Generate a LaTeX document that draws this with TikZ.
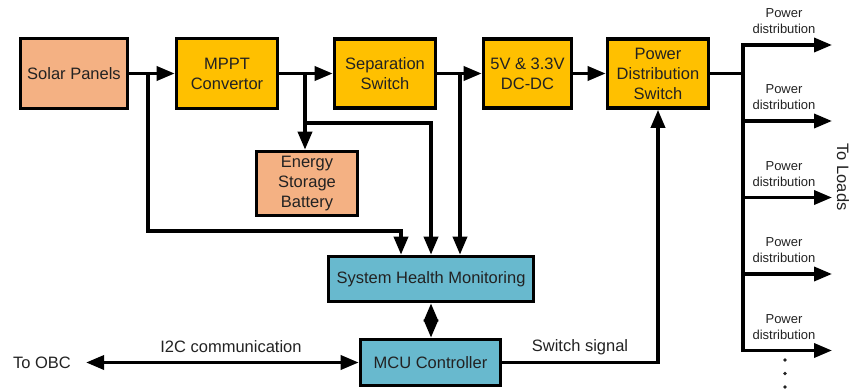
\documentclass[tikz,border=0pt]{standalone}
\usepackage{fontspec}
\setmainfont{Liberation Sans}
\usetikzlibrary{arrows.meta}
\definecolor{panel}{HTML}{F4B183}
\definecolor{gold}{HTML}{FFC000}
\definecolor{sky}{HTML}{68B9CE}
\definecolor{ink}{HTML}{222222}
\begin{document}
\begin{tikzpicture}[x=1pt,y=-1pt,
  blk/.style={draw=black, line width=3.6pt, text=ink, align=center, inner sep=0pt,
              font=\fontsize{16.5}{20}\selectfont},
  tip/.tip={Triangle[length=18pt,width=14pt]},
  wire/.style={line width=3.5pt, -tip},
  dbl/.style={line width=3.5pt, tip-tip},
  plain/.style={line width=3.5pt},
  lbl/.style={text=ink, inner sep=0pt, font=\fontsize{16.5}{20}\selectfont},
  small/.style={text=ink, align=center, inner sep=0pt, font=\fontsize{13}{16}\selectfont}]
\useasboundingbox (0,0) rectangle (851,391);

% blocks
\node[blk, fill=panel, minimum width=107pt, minimum height=70pt] (solar) at (74,73.5) {Solar Panels};
\node[blk, fill=gold,  minimum width=101pt, minimum height=70pt] (mppt)  at (227,73.5) {MPPT\\Convertor};
\node[blk, fill=gold,  minimum width=101pt, minimum height=69pt] (sep)   at (385,73.5) {Separation\\Switch};
\node[blk, fill=gold,  minimum width=88pt,  minimum height=69pt] (dcdc)  at (527.5,73.5) {5V \& 3.3V\\DC-DC};
\node[blk, fill=gold,  minimum width=101pt, minimum height=69pt] (pds)   at (658,73.5) {Power\\Distribution\\Switch};
\node[blk, fill=panel, minimum width=101pt, minimum height=64pt] (bat)   at (307,183.5) {Energy\\Storage\\Battery};
\node[blk, fill=sky,   minimum width=205pt, minimum height=45pt] (shm)   at (431,279) {System Health Monitoring};
\node[blk, fill=sky,   minimum width=140pt, minimum height=46pt] (mcu)   at (430.5,362.5) {MCU Controller};

% main power chain
\draw[wire] (solar.east) -- (mppt.west);
\draw[wire] (mppt.east) -- (sep.west);
\draw[wire] (sep.east) -- (dcdc.west);
\draw[wire] (dcdc.east) -- (pds.west);

% sensing taps into the health monitor
\coordinate (j1) at (148,73.5);
\coordinate (k1) at (401,231);
\draw[wire] (j1) |- (k1) -- (k1 |- shm.north);

\coordinate (j2) at (305,73.5);
\coordinate (k2) at (431,123);
\draw[wire] (j2) -- (j2 |- bat.north);
\draw[wire] (j2 |- k2) -- (k2) -- (k2 |- shm.north);

\coordinate (j3) at (460,73.5);
\draw[wire] (j3) -- (j3 |- shm.north);

% monitor <-> controller
\draw[dbl] (shm.south) -- (shm.south |- mcu.north);

% link to the on-board computer
\node[lbl] (obc) at (42,362.5) {To OBC};
\draw[dbl, shorten <=15pt] (obc.east) -- (mcu.west);
\node[lbl] (i2c) at (231,347) {I2C communication};

% switch control line
\draw[wire] (mcu.east) -| (pds.south);
\node[lbl] (sw) at (580,347) {Switch signal};

% distribution bus
\coordinate (bt) at (743,45);
\coordinate (bb) at (743,350.5);
\draw[plain] (pds.east) -- (pds.east -| bt);
\foreach \i/\yy in {1/45, 2/121, 3/197.5, 4/274, 5/350.5} {
  \coordinate (e\i) at (832,\yy);
  \node[small] (pd\i) at (784,\yy-23.5) {Power\\distribution};
}
\draw[wire] (bb) -- (bt) -- (e1);
\draw[wire] (bt) -- (bb) -- (e5);
\foreach \i in {2,3,4} {
  \draw[wire] (bt |- e\i) -- (e\i);
}

% continuation dots
\foreach \yy in {360,373.5,387} {
  \fill[ink] (785,\yy) circle (1.8pt);
}

\node[lbl, rotate=-90] (loads) at (843,177) {To Loads};
\end{tikzpicture}
\end{document}
